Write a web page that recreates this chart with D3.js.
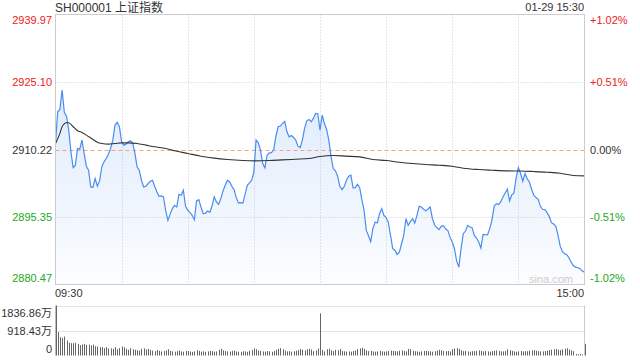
<!DOCTYPE html>
<html><head><meta charset="utf-8">
<script src="https://cdn.jsdelivr.net/npm/d3@7"></script>
<style>
body{margin:0;background:#fff}
svg{display:block}
text{font-family:"Liberation Sans",Arial,"Noto Sans CJK SC",sans-serif}
</style>
</head><body>
<svg id="chart" width="640" height="360"></svg>
<script>
// ---------- data ----------
const title = "SH000001 上证指数";
const stamp = "01-29 15:30";
const prevClose = 2910.22;
const priceTicks = [2939.97, 2925.10, 2910.22, 2895.35, 2880.47];
const pctTicks = ["+1.02%", "+0.51%", "0.00%", "-0.51%", "-1.02%"];
const timeLabels = ["09:30", "15:00"];
const volTicks = [1836.86, 918.43, 0];
const volTickLabels = ["1836.86万", "918.43万", "0"];

// one price per minute, 09:30 .. 11:30/13:00 .. 15:00 (241 points)
const prices = [
2911.62,2918.54,2919.06,2923.33,2918.39,2917.58,2914.49,2909.70,2906.24,2906.76,
2910.44,2910.30,2912.28,2909.34,2906.54,2905.65,2901.97,2901.90,2903.81,2902.12,
2903.30,2906.39,2907.50,2908.23,2909.19,2910.44,2912.28,2915.60,2916.19,2915.23,
2911.91,2911.18,2911.40,2911.91,2912.13,2911.69,2909.48,2906.39,2905.65,2903.45,
2901.97,2902.12,2902.71,2903.22,2903.45,2902.12,2900.87,2899.91,2899.98,2899.76,
2896.67,2894.61,2895.93,2897.19,2897.92,2897.55,2900.35,2900.13,2901.24,2897.70,
2896.82,2896.38,2895.71,2894.76,2898.88,2899.17,2897.55,2896.08,2896.15,2896.67,
2896.38,2897.70,2899.76,2898.66,2898.14,2899.40,2901.09,2902.34,2903.45,2903.08,
2902.12,2901.38,2899.62,2898.44,2898.51,2898.40,2900.35,2902.34,2902.86,2903.45,
2905.29,2912.28,2911.69,2910.07,2907.13,2906.17,2908.97,2909.48,2909.52,2910.22,
2913.17,2915.23,2915.38,2915.96,2916.41,2914.12,2913.02,2913.31,2912.87,2912.28,
2910.96,2910.66,2912.28,2914.86,2916.55,2916.85,2916.33,2917.07,2918.17,2918.10,
2914.49,2917.81,2915.96,2914.64,2912.28,2908.75,2906.02,2905.51,2904.33,2902.12,
2901.38,2902.05,2903.45,2904.33,2904.55,2901.75,2901.82,2902.56,2901.82,2899.17,
2896.82,2892.40,2891.22,2889.90,2892.77,2894.24,2894.02,2896.08,2897.19,2895.71,
2895.20,2894.17,2891.30,2888.35,2887.98,2887.10,2887.61,2889.45,2891.30,2894.98,
2893.50,2894.31,2894.98,2894.02,2895.71,2897.70,2897.55,2897.04,2896.74,2897.11,
2897.55,2894.98,2893.58,2892.99,2892.55,2893.28,2893.43,2892.69,2892.40,2890.85,
2889.82,2888.35,2885.62,2884.30,2888.35,2891.66,2892.25,2893.50,2893.14,2892.99,
2891.30,2890.71,2889.82,2888.50,2891.52,2891.45,2891.40,2892.77,2894.61,2897.70,
2898.29,2898.07,2898.66,2899.76,2900.65,2901.46,2898.88,2900.21,2900.65,2904.03,
2906.24,2904.92,2903.22,2904.92,2903.74,2903.08,2901.46,2900.13,2899.62,2899.25,
2897.70,2897.04,2896.97,2896.30,2895.49,2894.09,2893.80,2893.28,2891.30,2888.86,
2887.69,2887.24,2887.02,2886.29,2885.33,2884.59,2884.30,2884.15,2883.93,2883.42,
2883.19
];

// average price line, read at these minute indices
const avgMinutes = [0,2,3,5,6,8,10,12,14,17,19,21,24,27,30,33,37,41,45,50,54,60,66,72,78,85,90,97,103,109,115,120,
  126,132,138,144,150,156,162,168,174,180,185,192,198,205,211,217,223,229,235,240];
const avgValues = [2911.55,2913.76,2915.23,2916.11,2916.11,2915.23,2914.34,2913.98,2913.39,2912.43,2911.84,2911.55,
  2911.40,2911.55,2911.69,2911.69,2911.55,2911.18,2910.81,2910.44,2909.93,2909.34,2908.75,2908.31,2908.01,2907.79,
  2907.72,2907.79,2907.94,2908.08,2908.23,2908.68,
  2908.89,2908.75,2908.60,2908.01,2907.79,2907.42,2907.13,2906.91,2906.76,2906.54,2906.10,2905.80,2905.65,2905.51,
  2905.48,2905.36,2905.21,2904.99,2904.48,2904.40];

// volume per minute (万)
const volumes = [
1836.86,856,673,648,697,551,465,453,450,470,
428,379,404,428,390,400,367,400,343,330,
306,306,269,306,260,262,245,306,230,269,
330,300,245,210,269,230,210,195,180,245,
262,220,245,205,180,160,200,175,150,165,
190,230,170,150,140,160,185,150,140,175,
165,145,135,150,190,170,140,155,130,150,
175,160,140,150,210,245,190,160,150,145,
170,180,150,140,130,160,150,135,175,200,
260,230,180,170,150,140,165,150,135,160,
210,250,270,230,180,150,160,140,155,175,
200,240,210,190,230,250,220,160,190,260,
1550,200,150,230,250,185,160,210,190,240,
170,155,145,150,140,165,180,230,260,280,
240,190,160,175,150,140,150,170,155,140,
150,165,180,170,160,150,175,190,165,150,
240,230,170,155,150,135,150,165,175,160,
150,140,155,180,210,190,165,160,170,150,
235,260,270,245,190,160,170,150,140,155,
160,175,190,170,150,160,150,140,165,170,
185,175,150,150,160,225,195,170,150,140,
150,165,150,160,155,175,185,200,175,160,
150,150,165,180,200,215,230,240,210,195,
230,250,265,220,190,160,55,45,60,40,
428
];

// ---------- layout ----------
const svg = d3.select("#chart");
const L = 55.5, R = 584.5, T = 14.5, B = 284.5;
const VT = 305.5, VB = 355.5;
const red = "#f02020", green = "#22a822", dark = "#333";

const x = d3.scaleLinear().domain([0, 240]).range([L, R]);
const y = d3.scaleLinear().domain([priceTicks[4], priceTicks[0]]).range([B, T]);
const yv = d3.scaleLinear().domain([0, volTicks[0]]).range([VB, VT]);

// gradient for area fill
const defs = svg.append("defs");
const grad = defs.append("linearGradient").attr("id", "fillGrad")
  .attr("gradientUnits", "userSpaceOnUse").attr("x1", 0).attr("x2", 0).attr("y1", T).attr("y2", B);
grad.append("stop").attr("offset", "0").attr("stop-color", "#4d8ff0").attr("stop-opacity", 0.24);
grad.append("stop").attr("offset", "1").attr("stop-color", "#4d8ff0").attr("stop-opacity", 0.02);

// vertical grid
const vGrid = d3.range(1, 8).map(k => k * 30);
svg.append("g").selectAll("line").data(vGrid).join("line")
  .attr("x1", d => Math.round(x(d)) + 0.5).attr("x2", d => Math.round(x(d)) + 0.5)
  .attr("y1", T).attr("y2", B)
  .attr("stroke", "#cfcfcf").attr("stroke-dasharray", "1,2");

// horizontal grid (inner)
svg.append("g").selectAll("line").data([priceTicks[1], priceTicks[3]]).join("line")
  .attr("x1", L).attr("x2", R)
  .attr("y1", d => Math.round(y(d)) + 0.5).attr("y2", d => Math.round(y(d)) + 0.5)
  .attr("stroke", "#cfcfcf").attr("stroke-dasharray", "1,2");

// area + price line
const area = d3.area().x((d, i) => x(i)).y0(B).y1(d => y(d));
svg.append("path").datum(prices).attr("d", area).attr("fill", "url(#fillGrad)");

// previous close dashed line
svg.append("line").attr("x1", L).attr("x2", R)
  .attr("y1", Math.round(y(prevClose)) + 0.5).attr("y2", Math.round(y(prevClose)) + 0.5)
  .attr("stroke", "#f3a47a").attr("stroke-dasharray", "4,3");

const line = d3.line().x((d, i) => x(i)).y(d => y(d));
svg.append("path").datum(prices).attr("d", line)
  .attr("fill", "none").attr("stroke", "#4a8cf0").attr("stroke-width", 1.2);

const avgLine = d3.line().x(d => x(d[0])).y(d => y(d[1])).curve(d3.curveMonotoneX);
svg.append("path").datum(avgMinutes.map((m, i) => [m, avgValues[i]])).attr("d", avgLine)
  .attr("fill", "none").attr("stroke", "#333").attr("stroke-width", 1.1);

// border
svg.append("rect").attr("x", L).attr("y", T).attr("width", R - L).attr("height", B - T)
  .attr("fill", "none").attr("stroke", "#cccccc");

// watermark
svg.append("text").attr("x", 573).attr("y", 283).attr("text-anchor", "end")
  .attr("font-size", 11).attr("fill", "#cccccc").text("sina.com");

// left price labels
const labelY = (v, i) => i === 0 ? T + 9.5 : i === 4 ? B - 2.5 : y(v) + 4;
const colorOf = i => i < 2 ? red : i === 2 ? dark : green;
svg.append("g").selectAll("text").data(priceTicks).join("text")
  .attr("x", 52).attr("y", labelY).attr("text-anchor", "end")
  .attr("font-size", 11).attr("fill", (d, i) => colorOf(i))
  .text(d => d.toFixed(2));

// right pct labels
svg.append("g").selectAll("text").data(pctTicks).join("text")
  .attr("x", 590).attr("y", (d, i) => labelY(priceTicks[i], i)).attr("text-anchor", "start")
  .attr("font-size", 11).attr("fill", (d, i) => colorOf(i))
  .text(d => d);

// title + timestamp
svg.append("text").attr("x", 55).attr("y", 11.5).attr("font-size", 12).attr("fill", dark).text(title);
svg.append("text").attr("x", 584).attr("y", 11).attr("font-size", 11).attr("text-anchor", "end").attr("fill", dark).text(stamp);

// time labels
svg.append("text").attr("x", 55).attr("y", 297).attr("font-size", 11).attr("fill", dark).text(timeLabels[0]);
svg.append("text").attr("x", 584).attr("y", 297).attr("font-size", 11).attr("text-anchor", "end").attr("fill", dark).text(timeLabels[1]);

// ---------- volume panel ----------
svg.append("g").selectAll("line").data([volTicks[0], volTicks[1]]).join("line")
  .attr("x1", L).attr("x2", R)
  .attr("y1", d => Math.round(yv(d)) + 0.5).attr("y2", d => Math.round(yv(d)) + 0.5)
  .attr("stroke", "#c8c8c8").attr("stroke-dasharray", "1,1");

svg.append("g").selectAll("line").data(volumes).join("line")
  .attr("x1", (d, i) => Math.round(x(i)) + 0.5).attr("x2", (d, i) => Math.round(x(i)) + 0.5)
  .attr("y1", d => yv(d)).attr("y2", VB)
  .attr("stroke", "#666");

svg.append("line").attr("x1", L).attr("x2", L).attr("y1", VT).attr("y2", VB).attr("stroke", "#bbb");
svg.append("line").attr("x1", R).attr("x2", R).attr("y1", VT).attr("y2", VB).attr("stroke", "#ccc");

svg.append("g").selectAll("text").data(volTickLabels).join("text")
  .attr("x", 52).attr("y", (d, i) => i === 0 ? VT + 11 : i === 1 ? yv(volTicks[1]) + 4 : VB - 3)
  .attr("text-anchor", "end").attr("font-size", 11).attr("fill", dark)
  .text(d => d);
</script>
</body></html>
